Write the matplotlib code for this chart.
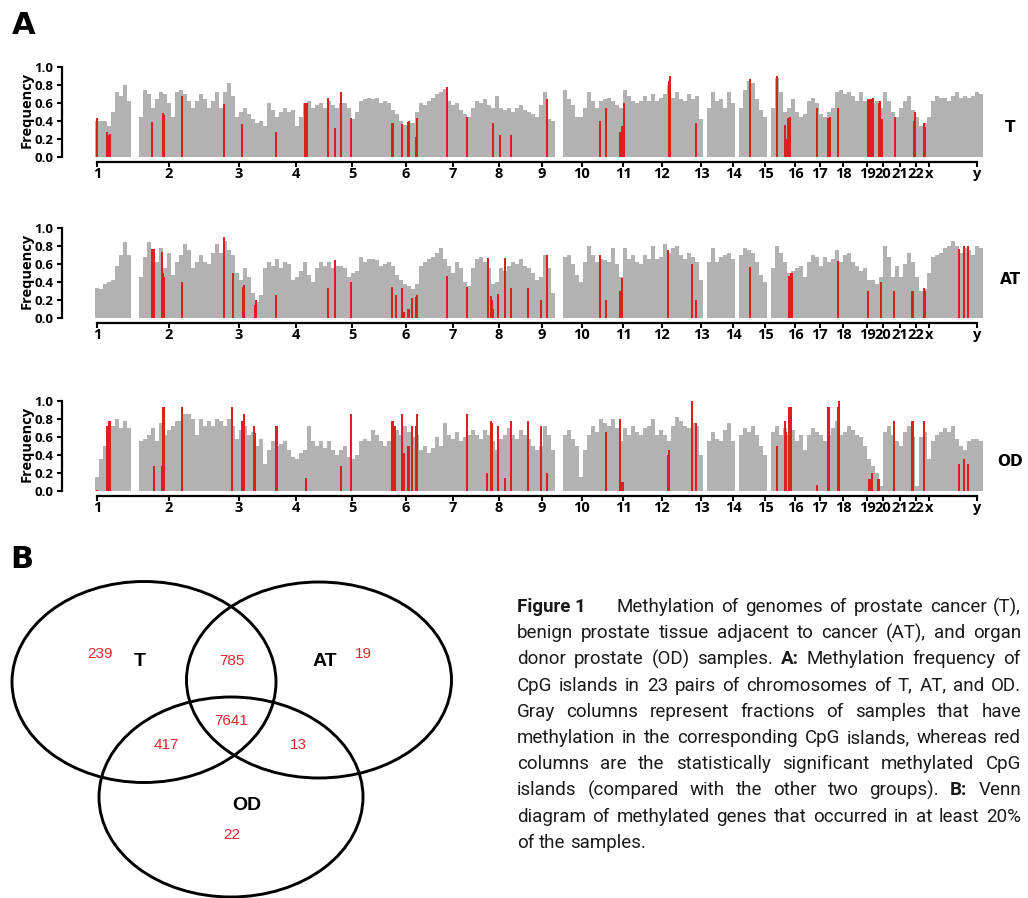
import numpy as np
import matplotlib.pyplot as plt
from matplotlib.patches import Ellipse

# chromosome axis (genome position, same unit as the column index * step)
chrom_labels = [str(i) for i in range(1, 23)] + ['x', 'y']
chrom_starts = [0, 72, 142, 199, 255, 309, 356, 402, 445, 485, 526, 565,
                604, 636, 668, 698, 723, 746, 770, 786, 803, 819, 832, 880]
step = 4

# methylation frequency per genome window
t_freq = [0.40, 0.40, 0.40, 0.35, 0.50, 0.72, 0.68, 0.80, 0.62, 0,
          0, 0.45, 0.75, 0.70, 0.55, 0.65, 0.72, 0.70, 0.60, 0.45,
          0.72, 0.75, 0.70, 0.62, 0.55, 0.62, 0.70, 0.65, 0.55, 0.62,
          0.72, 0.55, 0.72, 0.82, 0.68, 0.45, 0.50, 0.55, 0.48, 0.42,
          0.38, 0.40, 0.35, 0.60, 0.52, 0.45, 0.50, 0.55, 0.50, 0.52,
          0.35, 0.45, 0.60, 0.62, 0.55, 0.58, 0.60, 0.55, 0.62, 0.58,
          0.55, 0.60, 0.60, 0.55, 0.42, 0.50, 0.62, 0.65, 0.66, 0.64,
          0.66, 0.60, 0.62, 0.60, 0.52, 0.48, 0.40, 0.36, 0.38, 0.38,
          0.50, 0.60, 0.58, 0.62, 0.66, 0.70, 0.72, 0.76, 0.62, 0.58,
          0.60, 0.52, 0.48, 0.44, 0.55, 0.62, 0.60, 0.64, 0.58, 0.55,
          0.68, 0.55, 0.52, 0.55, 0.50, 0.55, 0.58, 0.52, 0.50, 0.48,
          0.44, 0.58, 0.72, 0.42, 0.40, 0, 0, 0.75, 0.65, 0.58,
          0.45, 0.44, 0.55, 0.72, 0.62, 0.55, 0.62, 0.64, 0.66, 0.62,
          0.58, 0.55, 0.74, 0.68, 0.62, 0.60, 0.62, 0.68, 0.62, 0.70,
          0.62, 0.66, 0.70, 0.80, 0.66, 0.72, 0.65, 0.62, 0.70, 0.65,
          0.68, 0.42, 0, 0.55, 0.72, 0.62, 0.65, 0.55, 0.72, 0.60,
          0, 0.55, 0.75, 0.85, 0.82, 0.65, 0.52, 0.45, 0, 0.55,
          0.88, 0.72, 0.50, 0.55, 0.65, 0.50, 0.45, 0.48, 0.62, 0.66,
          0.60, 0.48, 0.45, 0.50, 0.55, 0.72, 0.75, 0.70, 0.72, 0.68,
          0.62, 0.72, 0.62, 0.65, 0.60, 0.62, 0.55, 0.72, 0.62, 0.50,
          0.45, 0.55, 0.62, 0.68, 0.52, 0.45, 0.35, 0.38, 0.45, 0.62,
          0.68, 0.66, 0.66, 0.62, 0.68, 0.72, 0.66, 0.68, 0.66, 0.68,
          0.72, 0.70]
at_freq = [0.33, 0.32, 0.38, 0.40, 0.42, 0.58, 0.70, 0.84, 0.70, 0,
           0, 0.45, 0.68, 0.84, 0.72, 0.62, 0.78, 0.55, 0.72, 0.48,
           0.62, 0.70, 0.82, 0.75, 0.55, 0.62, 0.70, 0.62, 0.60, 0.72,
           0.82, 0.72, 0.85, 0.76, 0.70, 0.50, 0.42, 0.55, 0.45, 0.28,
           0.18, 0.25, 0.55, 0.62, 0.58, 0.66, 0.55, 0.62, 0.60, 0.42,
           0.45, 0.52, 0.62, 0.48, 0.40, 0.55, 0.62, 0.58, 0.62, 0.55,
           0.58, 0.58, 0.55, 0.45, 0.50, 0.52, 0.68, 0.62, 0.66, 0.65,
           0.64, 0.58, 0.60, 0.62, 0.58, 0.48, 0.42, 0.38, 0.35, 0.32,
           0.38, 0.58, 0.62, 0.65, 0.68, 0.72, 0.78, 0.65, 0.58, 0.50,
           0.62, 0.55, 0.40, 0.35, 0.55, 0.65, 0.68, 0.62, 0.55, 0.38,
           0.40, 0.55, 0.52, 0.58, 0.62, 0.60, 0.65, 0.58, 0.55, 0.50,
           0.42, 0.45, 0.70, 0.55, 0.28, 0, 0, 0.68, 0.70, 0.60,
           0.48, 0.40, 0.62, 0.80, 0.70, 0.62, 0.66, 0.64, 0.62, 0.78,
           0.60, 0.45, 0.78, 0.66, 0.70, 0.62, 0.60, 0.70, 0.66, 0.80,
           0.65, 0.68, 0.82, 0.72, 0.78, 0.80, 0.70, 0.66, 0.72, 0.68,
           0.62, 0.42, 0, 0.62, 0.78, 0.62, 0.68, 0.70, 0.72, 0.65,
           0, 0.70, 0.78, 0.75, 0.72, 0.62, 0.48, 0.40, 0, 0.55,
           0.80, 0.72, 0.62, 0.50, 0.52, 0.55, 0.58, 0.45, 0.62, 0.70,
           0.68, 0.58, 0.68, 0.62, 0.65, 0.75, 0.62, 0.70, 0.72, 0.62,
           0.58, 0.52, 0.55, 0.42, 0.42, 0.38, 0.45, 0.80, 0.68, 0.45,
           0.58, 0.45, 0.60, 0.72, 0.62, 0.45, 0.30, 0.32, 0.50, 0.68,
           0.70, 0.72, 0.78, 0.80, 0.85, 0.80, 0.72, 0.78, 0.76, 0.70,
           0.80, 0.78]
od_freq = [0.15, 0.35, 0.50, 0.72, 0.72, 0.80, 0.70, 0.78, 0.70, 0,
           0, 0.55, 0.58, 0.62, 0.70, 0.55, 0.75, 0.62, 0.68, 0.72,
           0.78, 0.78, 0.85, 0.85, 0.80, 0.62, 0.80, 0.72, 0.78, 0.72,
           0.80, 0.78, 0.72, 0.80, 0.72, 0.58, 0.68, 0.72, 0.62, 0.65,
           0.50, 0.58, 0.30, 0.45, 0.55, 0.50, 0.52, 0.55, 0.45, 0.38,
           0.35, 0.42, 0.45, 0.72, 0.55, 0.50, 0.55, 0.48, 0.55, 0.45,
           0.40, 0.45, 0.50, 0.38, 0.35, 0.40, 0.55, 0.58, 0.55, 0.68,
           0.62, 0.55, 0.50, 0.55, 0.62, 0.68, 0.62, 0.72, 0.65, 0.60,
           0.62, 0.45, 0.50, 0.42, 0.48, 0.60, 0.50, 0.75, 0.62, 0.58,
           0.65, 0.55, 0.60, 0.62, 0.68, 0.62, 0.58, 0.68, 0.62, 0.55,
           0.45, 0.58, 0.62, 0.70, 0.62, 0.58, 0.68, 0.62, 0.58, 0.50,
           0.45, 0.50, 0.72, 0.62, 0.45, 0, 0, 0.62, 0.68, 0.58,
           0.50, 0.15, 0.45, 0.62, 0.72, 0.65, 0.80, 0.75, 0.72, 0.80,
           0.70, 0.55, 0.70, 0.62, 0.72, 0.65, 0.62, 0.70, 0.72, 0.80,
           0.62, 0.68, 0.62, 0.55, 0.72, 0.82, 0.78, 0.72, 0.70, 0.75,
           0.72, 0.40, 0, 0.55, 0.65, 0.58, 0.55, 0.68, 0.75, 0.55,
           0, 0.62, 0.70, 0.65, 0.72, 0.62, 0.50, 0.40, 0, 0.65,
           0.72, 0.62, 0.70, 0.62, 0.68, 0.55, 0.62, 0.45, 0.62, 0.70,
           0.65, 0.62, 0.55, 0.62, 0.70, 0.78, 0.62, 0.65, 0.72, 0.68,
           0.62, 0.60, 0.50, 0.35, 0.28, 0.20, 0.05, 0.65, 0.72, 0.62,
           0.55, 0.50, 0.65, 0.72, 0.60, 0.05, 0.60, 0.65, 0.35, 0.55,
           0.62, 0.65, 0.70, 0.65, 0.72, 0.58, 0.50, 0.45, 0.55, 0.58,
           0.58, 0.55]

# statistically significant CpG islands (red columns)
t_sig_pos = [0, 10, 12, 13, 55, 66, 67, 85, 127, 145, 179, 208, 210, 231, 238,
             244, 254, 295, 296, 305, 311, 312, 319, 320, 350, 370, 396, 403, 414, 450,
             503, 509, 523, 525, 527, 572, 573, 599, 653, 680, 688, 690, 691, 693, 720,
             731, 733, 741, 771, 772, 774, 776, 782, 783, 785, 798, 817, 818, 827, 828]
t_sig_val = [0.43, 0.28, 0.24, 0.26, 0.39, 0.49, 0.47, 0.68, 0.59, 0.37, 0.28, 0.60, 0.60, 0.66, 0.32,
             0.72, 0.43, 0.38, 0.38, 0.37, 0.39, 0.40, 0.22, 0.43, 0.78, 0.44, 0.38, 0.24, 0.24, 0.65,
             0.40, 0.55, 0.28, 0.35, 0.60, 0.84, 0.90, 0.38, 0.87, 0.90, 0.36, 0.20, 0.43, 0.45, 0.55,
             0.43, 0.45, 0.55, 0.64, 0.65, 0.65, 0.66, 0.60, 0.62, 0.42, 0.44, 0.40, 0.50, 0.38, 0.33]
at_sig_pos = [55, 56, 57, 65, 66, 67, 85, 127, 136, 146, 147, 158, 159, 179, 231,
              238, 254, 295, 299, 305, 307, 311, 312, 315, 319, 320, 350, 370, 391, 394,
              395, 396, 401, 408, 414, 431, 444, 450, 503, 509, 523, 525, 571, 595, 599,
              653, 692, 694, 695, 741, 771, 784, 797, 815, 816, 827, 828, 862, 867, 871]
at_sig_val = [0.77, 0.77, 0.77, 0.73, 0.50, 0.45, 0.40, 0.90, 0.50, 0.34, 0.37, 0.14, 0.20, 0.26, 0.33,
              0.64, 0.40, 0.34, 0.26, 0.33, 0.07, 0.10, 0.10, 0.22, 0.23, 0.25, 0.47, 0.34, 0.67, 0.24,
              0.20, 0.10, 0.27, 0.67, 0.33, 0.33, 0.20, 0.70, 0.70, 0.20, 0.30, 0.44, 0.75, 0.60, 0.20,
              0.57, 0.47, 0.50, 0.50, 0.63, 0.30, 0.40, 0.30, 0.30, 0.30, 0.33, 0.30, 0.77, 0.80, 0.80]
od_sig_pos = [0, 10, 12, 13, 57, 65, 66, 67, 85, 135, 145, 147, 157, 158, 179,
              180, 209, 244, 254, 295, 296, 298, 305, 307, 311, 312, 315, 319, 320, 370,
              390, 394, 395, 401, 408, 414, 431, 444, 450, 509, 523, 525, 526, 571, 572,
              595, 599, 680, 688, 689, 692, 694, 720, 731, 732, 741, 742, 772, 774, 775,
              781, 782, 797, 815, 816, 827, 862, 867, 871]
od_sig_val = [0.01, 0.72, 0.78, 0.78, 0.28, 0.28, 0.93, 0.93, 0.93, 0.93, 0.78, 0.85, 0.72, 0.64, 0.72,
              0.72, 0.14, 0.28, 0.85, 0.78, 0.78, 0.72, 0.85, 0.42, 0.50, 0.50, 0.72, 0.72, 0.85, 0.85,
              0.20, 0.78, 0.75, 0.72, 0.14, 0.78, 0.78, 0.72, 0.20, 0.65, 0.80, 0.10, 0.10, 0.40, 0.45,
              1.00, 0.75, 0.50, 0.78, 0.65, 0.93, 0.93, 0.07, 0.93, 0.93, 0.93, 1.00, 0.13, 0.13, 0.20,
              0.13, 0.13, 0.78, 0.78, 0.78, 0.78, 0.30, 0.35, 0.30]

# venn counts (B)
venn_sets = ['T', 'AT', 'OD']
venn_counts = {'T': 239, 'AT': 19, 'OD': 22, 'T&AT': 785, 'T&OD': 417,
               'AT&OD': 13, 'all': 7641}

caption_lines = [
    'Figure 1 Methylation of genomes of prostate cancer (T),',
    'benign prostate tissue adjacent to cancer (AT), and organ',
    'donor prostate (OD) samples. A: Methylation frequency of',
    'CpG islands in 23 pairs of chromosomes of T, AT, and OD.',
    'Gray columns represent fractions of samples that have',
    'methylation in the corresponding CpG islands, whereas red',
    'columns are the statistically significant methylated CpG',
    'islands (compared with the other two groups). B: Venn',
    'diagram of methylated genes that occurred in at least 20%',
    'of the samples.',
]
bold_words = {'Figure 1', 'A:', 'B:'}

GRAY = '#b2b2b2'
RED = '#dc1f1f'
AXFONT = 'Open Sans'
W, H = 1028, 898

fig = plt.figure(figsize=(W / 100, H / 100), dpi=100)


def px_axes(left, top, right, bottom):
    return fig.add_axes([left / W, 1 - bottom / H, (right - left) / W, (bottom - top) / H])


panels = [('T', t_freq, t_sig_pos, t_sig_val, 157, 128),
          ('AT', at_freq, at_sig_pos, at_sig_val, 318, 280),
          ('OD', od_freq, od_sig_pos, od_sig_val, 491, 461)]

for name, freq, sp, sv, base, ny in panels:
    ax = px_axes(62, base - 94.5, 985, base)
    pos = np.arange(len(freq)) * step
    ax.bar(pos, freq, width=step, color=GRAY, linewidth=0)
    ax.bar(sp, sv, width=1.4, color=RED, linewidth=0)
    ax.set_xlim(-35, 888)
    ax.set_ylim(0, 1.05)
    for s in ['top', 'right']:
        ax.spines[s].set_visible(False)
    ax.spines['left'].set_bounds(0, 1)
    ax.spines['left'].set_linewidth(1.6)
    ax.spines['bottom'].set_position(('outward', 3.6))
    ax.spines['bottom'].set_bounds(0, chrom_starts[-1])
    ax.spines['bottom'].set_linewidth(1.6)
    ax.set_xticks(chrom_starts)
    ax.set_xticklabels(chrom_labels, fontsize=10.5, fontweight='bold', family=AXFONT)
    ax.set_yticks([0, 0.2, 0.4, 0.6, 0.8, 1.0])
    ax.set_yticklabels(['0.0', '0.2', '0.4', '0.6', '0.8', '1.0'], fontsize=9.5,
                       fontweight='bold', family=AXFONT)
    ax.tick_params(axis='x', length=3.6, width=1.5, pad=0.3)
    ax.tick_params(axis='y', length=3.6, width=1.5, pad=2.5)
    ax.set_ylabel('Frequency', fontsize=10.5, fontweight='bold', family=AXFONT, labelpad=1)
    fig.text(1010 / W, 1 - ny / H, name, fontsize=11, fontweight='bold', ha='center', va='center')

fig.text(12 / W, 1 - 26 / H, 'A', fontsize=22, fontweight='bold', va='center')
fig.text(10 / W, 1 - 559 / H, 'B', fontsize=22, fontweight='bold', va='center')

# overlay in pixel coordinates for the venn diagram and caption
ov = fig.add_axes([0, 0, 1, 1])
ov.set_xlim(0, W)
ov.set_ylim(H, 0)
ov.axis('off')
ov.patch.set_alpha(0)

for cx, cy, ew, eh in [(144, 682, 264, 201), (319, 680, 265, 196), (231, 797, 264, 200)]:
    ov.add_patch(Ellipse((cx, cy), ew, eh, fill=False, lw=2.1, ec='black'))

num_style = dict(color='#e3262b', fontsize=11, family='Liberation Sans', ha='center', va='center')
ov.text(100, 654, str(venn_counts['T']), **num_style)
ov.text(363, 654, str(venn_counts['AT']), **num_style)
ov.text(232, 835, str(venn_counts['OD']), **num_style)
ov.text(232, 661, str(venn_counts['T&AT']), **num_style)
ov.text(166, 745, str(venn_counts['T&OD']), **num_style)
ov.text(298, 745, str(venn_counts['AT&OD']), **num_style)
ov.text(231, 721, str(venn_counts['all']), **num_style)
lab_style = dict(fontsize=14, fontweight='bold', family='Liberation Sans', ha='center', va='center')
for s, (lx, ly) in zip(venn_sets, [(140, 662), (325, 662), (247, 805)]):
    ov.text(lx, ly, s, **lab_style)

# justified caption
renderer = fig.canvas.get_renderer()
x0, x1 = 517, 1021
for i, line in enumerate(caption_lines):
    y = 607 + 26.2 * i
    words = line.split(' ')
    if i == 0:
        words = [' '.join(words[:2])] + words[2:]
    texts = [ov.text(0, y, w, fontsize=13.5, family='Roboto', va='center', ha='left',
                     color='#1a1a1a', fontweight='bold' if w in bold_words else 'normal')
             for w in words]
    widths = [t.get_window_extent(renderer).width for t in texts]
    extra = [0] * len(words)
    if i == 0:
        extra[0] = 24
    if i < len(caption_lines) - 1:
        gap = max(3, (x1 - x0 - sum(widths) - sum(extra)) / (len(words) - 1))
    else:
        gap = 4.5
    x = x0
    for t, wd, e in zip(texts, widths, extra):
        t.set_x(x)
        x += wd + gap + e

fig.savefig('out.png', dpi=100)
